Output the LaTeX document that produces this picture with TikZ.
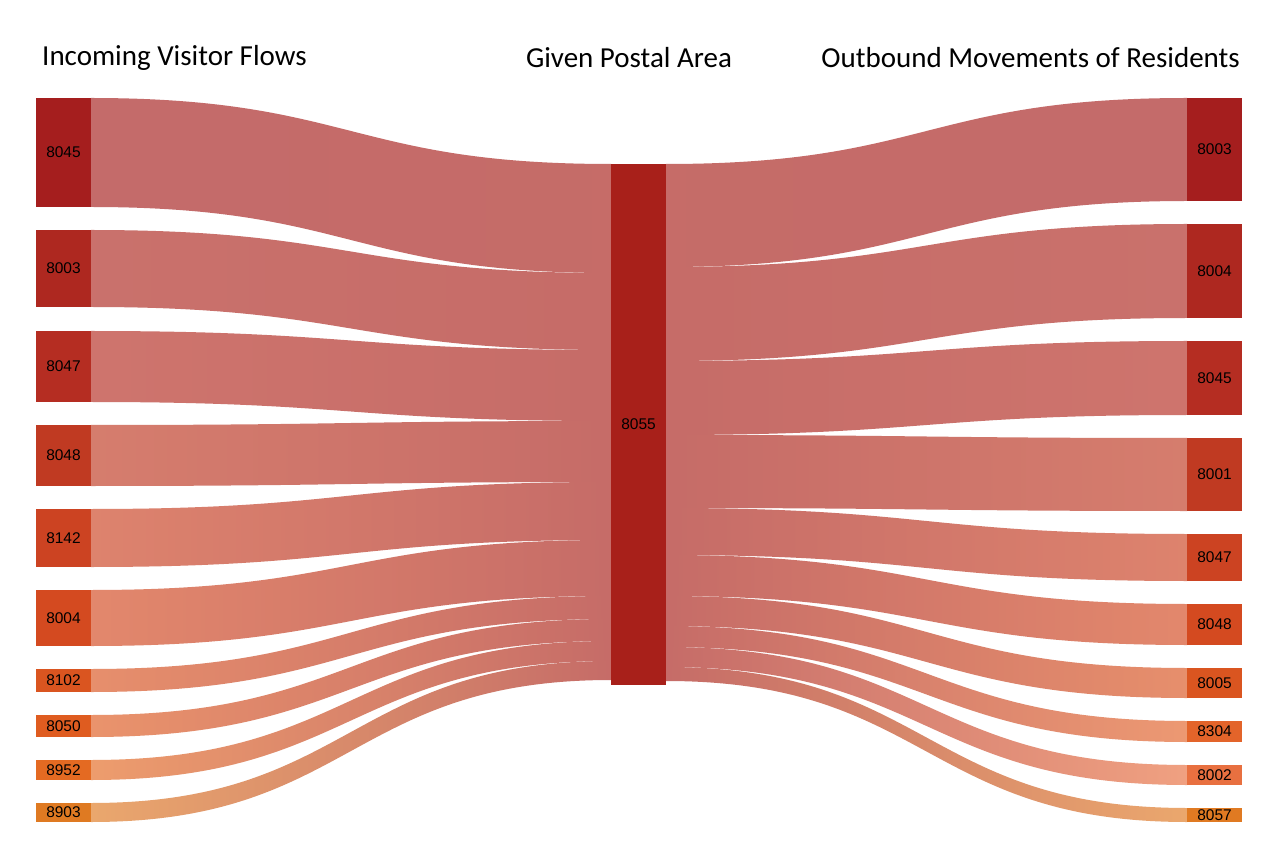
\documentclass[tikz,border=0pt]{standalone}
\usepackage{fontspec}
\setmainfont{Liberation Sans}
\newfontfamily\ttl{Carlito}
\begin{document}
\begin{tikzpicture}[x=1pt,y=-1pt,
  nd/.style={inner sep=0pt,font=\fontsize{15.5}{15.5}\selectfont},
  tt/.style={inner sep=0pt,font=\ttl\fontsize{29}{29}\selectfont}]
\useasboundingbox (0,0) rectangle (1280,858);
\fill[white] (0,0) rectangle (1280,858);
\definecolor{cc}{HTML}{A8201A}
% link macro: x1 ya yb x2 yc yd colL colR
\newcommand\lnk[8]{%
  \pgfmathsetmacro\xm{(#1+#4)/2}%
  \shade[left color=#7!66!white,right color=#8!66!white]
   (#1,#2) .. controls (\xm,#2) and (\xm,#5) .. (#4,#5) -- (#4,#6)
   .. controls (\xm,#6) and (\xm,#3) .. (#1,#3) -- cycle;}
% left side
\foreach \t/\b/\ca/\cb/\col/\lab [count=\i] in {
 98/207/164/273/A51E1E/8045,
 230/307/273/350/AE2820/8003,
 331/402/350/421/B52D22/8047,
 425/486/421/482/C03A22/8048,
 509/567/482/540/CC4322/8142,
 590/646/540/596/D44A20/8004,
 669/692/596/619/DA5520/8102,
 715/737/619/641/DF5C20/8050,
 760/780/641/661/E46A22/8952,
 803/822/661/680/DF7A22/8903}{
  \definecolor{tmp}{HTML}{\col}
  \lnk{91}{\t}{\b}{611}{\ca}{\cb}{tmp}{cc}
  \fill[tmp] (36,\t) rectangle (91,\b);
  \node[nd] (l\i) at (63.5,{(\t+\b)/2}) {\lab};
}
% right side
\foreach \t/\b/\ca/\cb/\col/\lab [count=\i] in {
 98/201/164/267/A51E1E/8003,
 224/318/267/361/AE2820/8004,
 341/415/361/435/B52D22/8045,
 438/511/435/508/C03A22/8001,
 534/581/508/555/CC4322/8047,
 604/645/555/596/D44A20/8048,
 668/698/596/626/DA5520/8005,
 721/742/626/647/E3642A/8304,
 765/785/647/667/E87040/8002,
 808/822/667/681/E07A22/8057}{
  \definecolor{tmp}{HTML}{\col}
  \lnk{666}{\ca}{\cb}{1187}{\t}{\b}{cc}{tmp}
  \fill[tmp] (1187,\t) rectangle (1242,\b);
  \node[nd] (r\i) at (1214.5,{(\t+\b)/2}) {\lab};
}
\fill[cc] (611,164) rectangle (666,685);
\node[nd] (c) at (638.5,424) {8055};
\node[tt,anchor=west] (t1) at (42,58) {Incoming Visitor Flows};
\node[tt] (t2) at (629,58) {Given Postal Area};
\node[tt,anchor=east] (t3) at (1240,58) {Outbound Movements of Residents};
\end{tikzpicture}
\end{document}
